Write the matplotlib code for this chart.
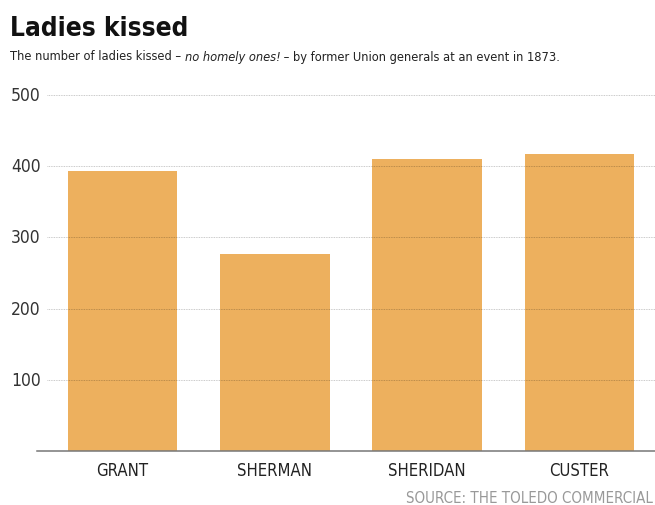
import matplotlib
matplotlib.use("Agg")
import matplotlib.pyplot as plt
import matplotlib.transforms as mtransforms

# data
generals = ["GRANT", "SHERMAN", "SHERIDAN", "CUSTER"]
kisses = [393, 277, 410, 417]
y_ticks = [100, 200, 300, 400, 500]

plt.rcParams["font.family"] = ["DejaVu Sans"]
plt.rcParams["font.stretch"] = "condensed"

bar_color = "#EDB05E"

fig = plt.figure(figsize=(6.55, 5.06), dpi=100)
ax = fig.add_axes([37 / 655, 1 - 452 / 506, 1 - 37 / 655, (452 - 96) / 506])

x = list(range(len(generals)))
ax.bar(x, kisses, width=0.72, color=bar_color, zorder=1)
ax.set_xlim(-0.561, 3.496)
ax.set_ylim(0, 500)

# dotted gridlines, drawn over the bars (translucent so they darken the orange)
for t in y_ticks:
    ax.axhline(t, xmin=0.016, xmax=1, color="black", alpha=0.28, lw=0.6,
               linestyle=(0, (1, 1)), zorder=2)
ax.axhline(0, color="#777777", lw=1.1, zorder=3, clip_on=False)

trans = mtransforms.blended_transform_factory(fig.transFigure, ax.transData)
for t in y_ticks:
    ax.text(11 / 655, t, str(t), transform=trans, ha="left", va="center",
            fontsize=12.5, color="#333333")

for xi, g in zip(x, generals):
    ax.text(xi, -26, g, ha="center", va="center", fontsize=12, color="#222222")

for s in ax.spines.values():
    s.set_visible(False)
ax.set_xticks([])
ax.set_yticks([])

fig.text(10 / 655, 1 - 29 / 506, "Ladies kissed", fontsize=18.8, fontweight="bold",
         ha="left", va="center", color="#111111")
sub_y = 1 - 57 / 506
t1 = fig.text(10 / 655, sub_y, "The number of ladies kissed – ", fontsize=9.2,
              ha="left", va="center", color="#222222")
fig.canvas.draw()
r = fig.canvas.get_renderer()
bb = t1.get_window_extent(r)
t2 = fig.text(bb.x1 / fig.bbox.width, sub_y, "no homely ones!", fontsize=9.2,
              style="italic", ha="left", va="center", color="#222222")
bb2 = t2.get_window_extent(r)
fig.text(bb2.x1 / fig.bbox.width, sub_y,
         " – by former Union generals at an event in 1873.", fontsize=9.2,
         ha="left", va="center", color="#222222")

fig.text(653 / 655, 1 - 499 / 506, "SOURCE: THE TOLEDO COMMERCIAL", fontsize=10.8,
         ha="right", va="center", color="#999999")

fig.savefig("out.png", dpi=100, facecolor="white")
